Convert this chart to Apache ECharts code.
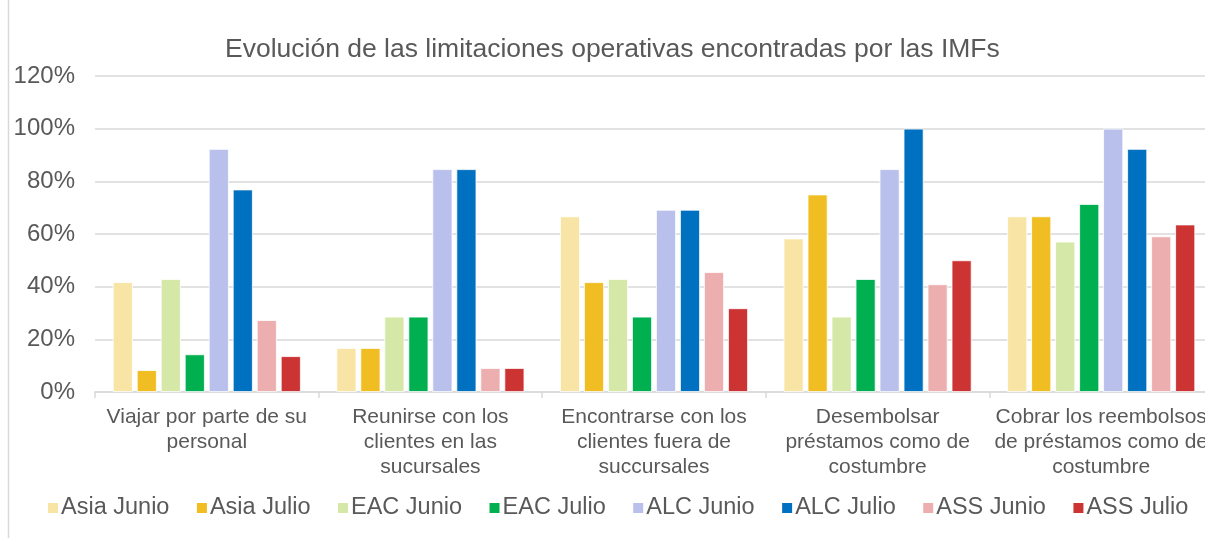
<!DOCTYPE html>
<html>
<head>
<meta charset="utf-8">
<script src="https://cdn.jsdelivr.net/npm/echarts@6/dist/echarts.min.js"></script>
<style>
  html, body { margin: 0; padding: 0; background: #fff; overflow: hidden; }
  /* 比窗口略宽：最后一个类目在右边被裁切，和原图一样 */
  #chart { width: 1213px; height: 538px; }
</style>
</head>
<body>
<div id="chart"></div>
<script>
// ====== 数据 ======
const categories = [
  "Viajar por parte de su\npersonal",
  "Reunirse con los\nclientes en las\nsucursales",
  "Encontrarse con los\nclientes fuera de\nsuccursales",
  "Desembolsar\npréstamos como de\ncostumbre",
  "Cobrar los reembolsos\nde préstamos como de\ncostumbre"
];
const seriesNames = ["Asia Junio", "Asia Julio", "EAC Junio", "EAC Julio", "ALC Junio", "ALC Julio", "ASS Junio", "ASS Julio"];
const seriesColors = ["#F8E5A6", "#F0BE22", "#D5E8A8", "#00AF50", "#B8C0EB", "#0070C0", "#ECAEAE", "#CC3333"];

const asiaJunio = [41.7, 16.7, 66.7, 58.3, 66.7];
const asiaJulio = [8.3, 16.7, 41.7, 75.0, 66.7];
const eacJunio  = [42.9, 28.6, 42.9, 28.6, 57.1];
const eacJulio  = [14.3, 28.6, 28.6, 42.9, 71.4];
const alcJunio  = [92.3, 84.6, 69.2, 84.6, 100];
const alcJulio  = [76.9, 84.6, 69.2, 100, 92.3];
const assJunio  = [27.3, 9.1, 45.5, 40.9, 59.1];
const assJulio  = [13.6, 9.1, 31.8, 50.0, 63.6];
const seriesData = [asiaJunio, asiaJulio, eacJunio, eacJulio, alcJunio, alcJulio, assJunio, assJulio];

const yTicks = [0, 20, 40, 60, 80, 100, 120];

const textColor = "#595959";
const font = "'Liberation Sans', Arial, sans-serif";

const chart = echarts.init(document.getElementById("chart"));

chart.setOption({
  backgroundColor: "#fff",
  animation: false,
  title: {
    text: "Evolución de las limitaciones operativas encontradas por las IMFs",
    left: 220,
    top: 31,
    textStyle: { color: textColor, fontSize: 26.5, fontWeight: "normal", fontFamily: font }
  },
  legend: {
    data: seriesNames,
    bottom: 13,
    left: 41,
    itemWidth: 12,
    itemHeight: 12,
    itemGap: 25.5,
    icon: "rect",
    textStyle: { color: textColor, fontSize: 23.5, fontFamily: font, padding: [0, 0, 0, -3] }
  },
  grid: { left: 95, right: 0, top: 76, bottom: 146, containLabel: false },
  xAxis: {
    type: "category",
    data: categories,
    axisLine: { lineStyle: { color: "#D9D9D9", width: 1.5 } },
    axisTick: { show: true, length: 6, lineStyle: { color: "#D9D9D9", width: 1.5 } },
    axisLabel: { color: textColor, fontSize: 21, fontFamily: font, lineHeight: 25, margin: 13, interval: 0 }
  },
  yAxis: {
    type: "value",
    min: 0,
    max: 120,
    interval: 20,
    axisLine: { show: false },
    axisTick: { show: false },
    splitLine: { lineStyle: { color: "#D9D9D9", width: 1.5 } },
    axisLabel: {
      color: textColor, fontSize: 24, fontFamily: font, margin: 20,
      formatter: v => yTicks.includes(v) ? v + "%" : ""
    }
  },
  graphic: [{
    type: "line",
    shape: { x1: 8.5, y1: 0, x2: 8.5, y2: 538 },
    style: { stroke: "#D9D9D9", lineWidth: 1.5 }
  }],
  series: seriesNames.map((name, i) => ({
    name: name,
    type: "bar",
    data: seriesData[i],
    barWidth: 20,
    barGap: "20%",
    itemStyle: { color: seriesColors[i], borderColor: "#fff", borderWidth: 0.8 }
  }))
});

window.addEventListener("resize", () => chart.resize());
</script>
</body>
</html>
